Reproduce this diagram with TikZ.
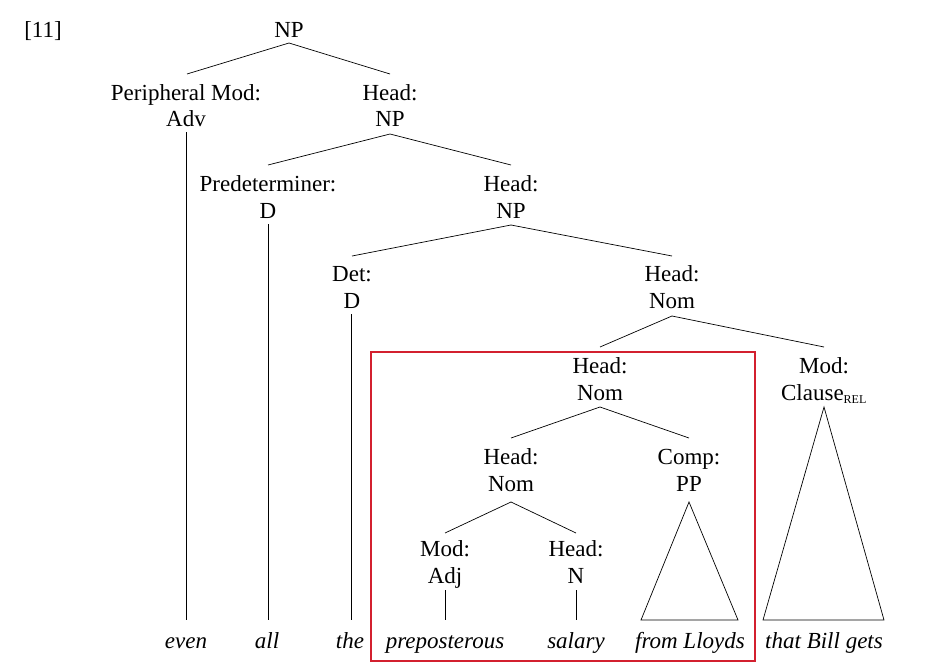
\documentclass[tikz,border=0pt]{standalone}
\usepackage{fontspec}
\setmainfont{Liberation Serif}
\definecolor{boxred}{HTML}{D3202F}
\begin{document}
\begin{tikzpicture}[x=1pt,y=-1pt,
  lab/.style={font=\fontsize{23}{26}\selectfont, inner sep=0pt, anchor=base},
  wd/.style={lab, font=\fontsize{23}{26}\selectfont\itshape},
  ln/.style={line width=0.7pt}]
\useasboundingbox (0,0) rectangle (942,669);
\node[lab] (ex) at (43,38) {[11]};
\node[lab] (np0) at (289,38) {NP};
\node[lab] (pm) at (186,100) {Peripheral Mod:};
\node[lab] (adv) at (186,126) {Adv};
\node[lab] (h1) at (390,100) {Head:};
\node[lab] (np1) at (390,126) {NP};
\node[lab] (pd) at (268,191) {Predeterminer:};
\node[lab] (d1) at (268,218) {D};
\node[lab] (h2) at (511,191) {Head:};
\node[lab] (np2) at (511,218) {NP};
\node[lab] (det) at (352,281) {Det:};
\node[lab] (d2) at (352,308) {D};
\node[lab] (h3) at (672,281) {Head:};
\node[lab] (nom3) at (672,308) {Nom};
\node[lab] (h4) at (600,373) {Head:};
\node[lab] (nom4) at (600,400) {Nom};
\node[lab] (mod4) at (824,373) {Mod:};
\node[lab] (cl) at (824,400) {Clause\textsubscript{\fontsize{12}{14}\selectfont REL}};
\node[lab] (h5) at (511,464) {Head:};
\node[lab] (nom5) at (511,491) {Nom};
\node[lab] (comp) at (689,464) {Comp:};
\node[lab] (pp) at (689,491) {PP};
\node[lab] (mod6) at (445,556) {Mod:};
\node[lab] (adj) at (445,583) {Adj};
\node[lab] (h6) at (576,556) {Head:};
\node[lab] (n6) at (576,583) {N};
\node[wd] (w1) at (186,648) {even};
\node[wd] (w2) at (267,648) {all};
\node[wd] (w3) at (350,648) {the};
\node[wd] (w4) at (445,648) {preposterous};
\node[wd] (w5) at (576,648) {salary};
\node[wd] (w6) at (690,648) {from Lloyds};
\node[wd] (w7) at (824,648) {that Bill gets};
\coordinate (t1) at (289,43);
\draw[ln] (t1) -- (187,74); \draw[ln] (t1) -- (390,74);
\coordinate (t2) at (390,134);
\draw[ln] (t2) -- (268,165); \draw[ln] (t2) -- (511,165);
\coordinate (t3) at (511,225);
\draw[ln] (t3) -- (352,256); \draw[ln] (t3) -- (672,256);
\coordinate (t4) at (672,316);
\draw[ln] (t4) -- (600,347); \draw[ln] (t4) -- (824,347);
\coordinate (t5) at (600,407);
\draw[ln] (t5) -- (511,438); \draw[ln] (t5) -- (689,438);
\coordinate (t6) at (511,502);
\draw[ln] (t6) -- (445,533); \draw[ln] (t6) -- (576,533);
\draw[ln] (186,132) -- (186,620);
\draw[ln] (268,224) -- (268,620);
\draw[ln] (351,314) -- (351,620);
\draw[ln] (445,590) -- (445,620);
\draw[ln] (576,590) -- (576,620);
\draw[ln] (689,502) -- (641,620) -- (738,620) -- cycle;
\draw[ln] (824,407) -- (763,620) -- (884,620) -- cycle;
\draw[boxred, line width=1.8pt] (371,352) rectangle (755,661);
\end{tikzpicture}
\end{document}
